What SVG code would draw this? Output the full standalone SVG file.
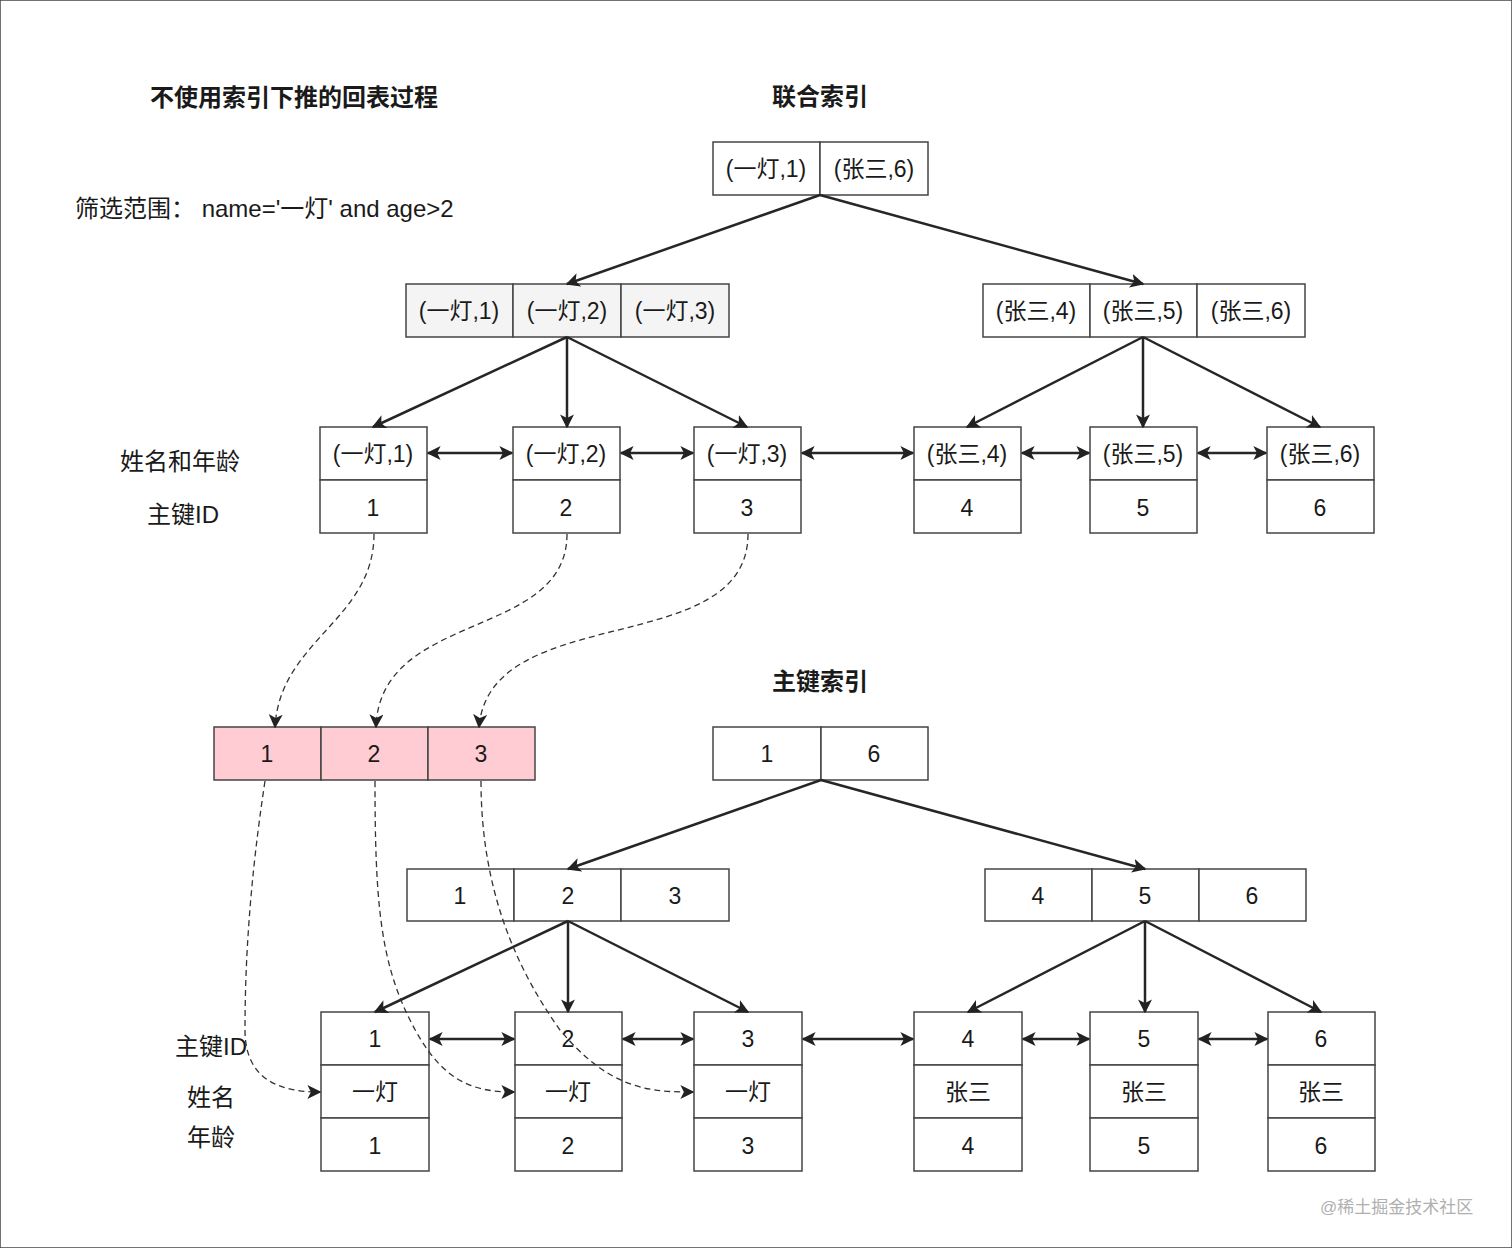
<svg xmlns="http://www.w3.org/2000/svg" width="1512" height="1248" viewBox="0 0 1512 1248">
<defs>
<pattern id="g" width="23.33" height="23.33" patternUnits="userSpaceOnUse" x="18.3" y="21.7"><path d="M0 0H23.33M0 0V23.33" fill="none" stroke="#ebebeb" stroke-width="1.2"/></pattern>
<marker id="a" viewBox="0 0 10 10" refX="9" refY="5" markerWidth="10" markerHeight="10" markerUnits="userSpaceOnUse" orient="auto-start-reverse"><path d="M0 0L10 5L0 10L2.5 5Z" fill="#222"/></marker>
<marker id="b" viewBox="0 0 10 10" refX="9" refY="5" markerWidth="14" markerHeight="14" markerUnits="userSpaceOnUse" orient="auto-start-reverse"><path d="M0 0L10 5L0 10L2.5 5Z" fill="#222"/></marker>
</defs>
<style>
text{font-family:"Liberation Sans","Noto Sans CJK SC",sans-serif;fill:#1a1a1a}
.c{font-size:23px;text-anchor:middle}
.t{font-size:24px;font-weight:bold}
rect{stroke:#444;stroke-width:1.5;fill:#fff}
.gr{fill:#f4f4f4}.pk{fill:#ffccd3}
.e{stroke:#262626;stroke-width:2.5;fill:none;marker-end:url(#b)}
.d{stroke:#262626;stroke-width:2.5;fill:none;marker-end:url(#b);marker-start:url(#b)}
.ds{stroke:#333;stroke-width:1.3;fill:none;stroke-dasharray:6 4;marker-end:url(#b)}
</style>
<rect x="0" y="0" width="1512" height="1248" fill="#fff" stroke="none"/>
<rect x="0" y="0" width="1512" height="1248" fill="url(#g)" stroke="none"/>
<g id="labels">
<text class="t" x="150" y="106">不使用索引下推的回表过程</text>
<text class="t" x="75" y="217" font-weight="normal" style="font-weight:normal">筛选范围：  name='一灯' and age&gt;2</text>
<text class="t" x="820" y="105" text-anchor="middle">联合索引</text>
<text class="t" x="820" y="690" text-anchor="middle">主键索引</text>
<text class="t" x="120" y="470" style="font-weight:normal">姓名和年龄</text>
<text class="t" x="147" y="523" style="font-weight:normal">主键ID</text>
<text class="t" x="175" y="1055" style="font-weight:normal">主键ID</text>
<text class="t" x="187" y="1106" style="font-weight:normal">姓名</text>
<text class="t" x="187" y="1146" style="font-weight:normal">年龄</text>
<text x="1320" y="1213" style="font-size:17px;fill:#b0b0b0">@稀土掘金技术社区</text>
</g>
<g id="ci-root"><rect x="713" y="142" width="107" height="53"/><rect x="820" y="142" width="108" height="53"/><text class="c" x="766" y="177">(一灯,1)</text><text class="c" x="874" y="177">(张三,6)</text></g>
<g id="ci-l2a"><rect class="gr" x="406" y="284" width="107" height="53"/><rect class="gr" x="513" y="284" width="108" height="53"/><rect class="gr" x="621" y="284" width="108" height="53"/><text class="c" x="459" y="319">(一灯,1)</text><text class="c" x="567" y="319">(一灯,2)</text><text class="c" x="675" y="319">(一灯,3)</text></g>
<g id="ci-l2b"><rect x="983" y="284" width="107" height="53"/><rect x="1090" y="284" width="107" height="53"/><rect x="1197" y="284" width="108" height="53"/><text class="c" x="1036" y="319">(张三,4)</text><text class="c" x="1143" y="319">(张三,5)</text><text class="c" x="1251" y="319">(张三,6)</text></g>
<g id="ci-leaves">
<rect x="320" y="427" width="107" height="53"/><rect x="320" y="480" width="107" height="53"/><text class="c" x="373" y="462">(一灯,1)</text><text class="c" x="373" y="516">1</text>
<rect x="513" y="427" width="107" height="53"/><rect x="513" y="480" width="107" height="53"/><text class="c" x="566" y="462">(一灯,2)</text><text class="c" x="566" y="516">2</text>
<rect x="694" y="427" width="107" height="53"/><rect x="694" y="480" width="107" height="53"/><text class="c" x="747" y="462">(一灯,3)</text><text class="c" x="747" y="516">3</text>
<rect x="914" y="427" width="107" height="53"/><rect x="914" y="480" width="107" height="53"/><text class="c" x="967" y="462">(张三,4)</text><text class="c" x="967" y="516">4</text>
<rect x="1090" y="427" width="107" height="53"/><rect x="1090" y="480" width="107" height="53"/><text class="c" x="1143" y="462">(张三,5)</text><text class="c" x="1143" y="516">5</text>
<rect x="1267" y="427" width="107" height="53"/><rect x="1267" y="480" width="107" height="53"/><text class="c" x="1320" y="462">(张三,6)</text><text class="c" x="1320" y="516">6</text>
</g>
<g id="pink"><rect class="pk" x="214" y="727" width="107" height="53"/><rect class="pk" x="321" y="727" width="107" height="53"/><rect class="pk" x="428" y="727" width="107" height="53"/><text class="c" x="267" y="762">1</text><text class="c" x="374" y="762">2</text><text class="c" x="481" y="762">3</text></g>
<g id="pk-root"><rect x="713" y="727" width="108" height="53"/><rect x="821" y="727" width="107" height="53"/><text class="c" x="767" y="762">1</text><text class="c" x="874" y="762">6</text></g>
<g id="pk-l2a"><rect x="407" y="869" width="107" height="52"/><rect x="514" y="869" width="107" height="52"/><rect x="621" y="869" width="108" height="52"/><text class="c" x="460" y="904">1</text><text class="c" x="568" y="904">2</text><text class="c" x="675" y="904">3</text></g>
<g id="pk-l2b"><rect x="985" y="869" width="107" height="52"/><rect x="1092" y="869" width="107" height="52"/><rect x="1199" y="869" width="107" height="52"/><text class="c" x="1038" y="904">4</text><text class="c" x="1145" y="904">5</text><text class="c" x="1252" y="904">6</text></g>
<g id="pk-leaves">
<g><rect x="321" y="1012" width="108" height="53"/><rect x="321" y="1065" width="108" height="53"/><rect x="321" y="1118" width="108" height="53"/><text class="c" x="375" y="1047">1</text><text class="c" x="375" y="1100">一灯</text><text class="c" x="375" y="1154">1</text></g>
<g><rect x="515" y="1012" width="107" height="53"/><rect x="515" y="1065" width="107" height="53"/><rect x="515" y="1118" width="107" height="53"/><text class="c" x="568" y="1047">2</text><text class="c" x="568" y="1100">一灯</text><text class="c" x="568" y="1154">2</text></g>
<g><rect x="694" y="1012" width="108" height="53"/><rect x="694" y="1065" width="108" height="53"/><rect x="694" y="1118" width="108" height="53"/><text class="c" x="748" y="1047">3</text><text class="c" x="748" y="1100">一灯</text><text class="c" x="748" y="1154">3</text></g>
<g><rect x="914" y="1012" width="108" height="53"/><rect x="914" y="1065" width="108" height="53"/><rect x="914" y="1118" width="108" height="53"/><text class="c" x="968" y="1047">4</text><text class="c" x="968" y="1100">张三</text><text class="c" x="968" y="1154">4</text></g>
<g><rect x="1090" y="1012" width="108" height="53"/><rect x="1090" y="1065" width="108" height="53"/><rect x="1090" y="1118" width="108" height="53"/><text class="c" x="1144" y="1047">5</text><text class="c" x="1144" y="1100">张三</text><text class="c" x="1144" y="1154">5</text></g>
<g><rect x="1268" y="1012" width="107" height="53"/><rect x="1268" y="1065" width="107" height="53"/><rect x="1268" y="1118" width="107" height="53"/><text class="c" x="1321" y="1047">6</text><text class="c" x="1321" y="1100">张三</text><text class="c" x="1321" y="1154">6</text></g>
</g>
<g id="connectors">
<path class="e" d="M820 195L567 284"/><path class="e" d="M820 195L1143 284"/>
<path class="e" d="M567 337L373 427"/><path class="e" d="M567 337L567 427"/><path class="e" d="M567 337L747 427"/>
<path class="e" d="M1143 337L967 427"/><path class="e" d="M1143 337L1143 427"/><path class="e" d="M1143 337L1320 427"/>
<path class="d" d="M428 453H512"/><path class="d" d="M621 453H693"/><path class="d" d="M802 453H913"/><path class="d" d="M1022 453H1089"/><path class="d" d="M1198 453H1266"/>
<path class="e" d="M821 780L568 869"/><path class="e" d="M821 780L1145 869"/>
<path class="e" d="M568 921L375 1012"/><path class="e" d="M568 921L568 1012"/><path class="e" d="M568 921L748 1012"/>
<path class="e" d="M1145 921L968 1012"/><path class="e" d="M1145 921L1145 1012"/><path class="e" d="M1145 921L1321 1012"/>
<path class="d" d="M430 1039H514"/><path class="d" d="M623 1039H693"/><path class="d" d="M803 1039H913"/><path class="d" d="M1023 1039H1089"/><path class="d" d="M1199 1039H1267"/>
<path class="ds" d="M374 534C374 620 280 640 275 727"/>
<path class="ds" d="M567 534C567 640 380 610 376 727"/>
<path class="ds" d="M748 534C748 660 490 600 479 727"/>
<path class="ds" d="M265 781C250 880 245 960 245 1030C245 1080 280 1092 320 1092"/>
<path class="ds" d="M375 781C375 900 380 960 410 1020C440 1080 470 1092 514 1092"/>
<path class="ds" d="M481 781C481 880 510 960 560 1030C610 1090 650 1092 693 1092"/>
</g>
</svg>
